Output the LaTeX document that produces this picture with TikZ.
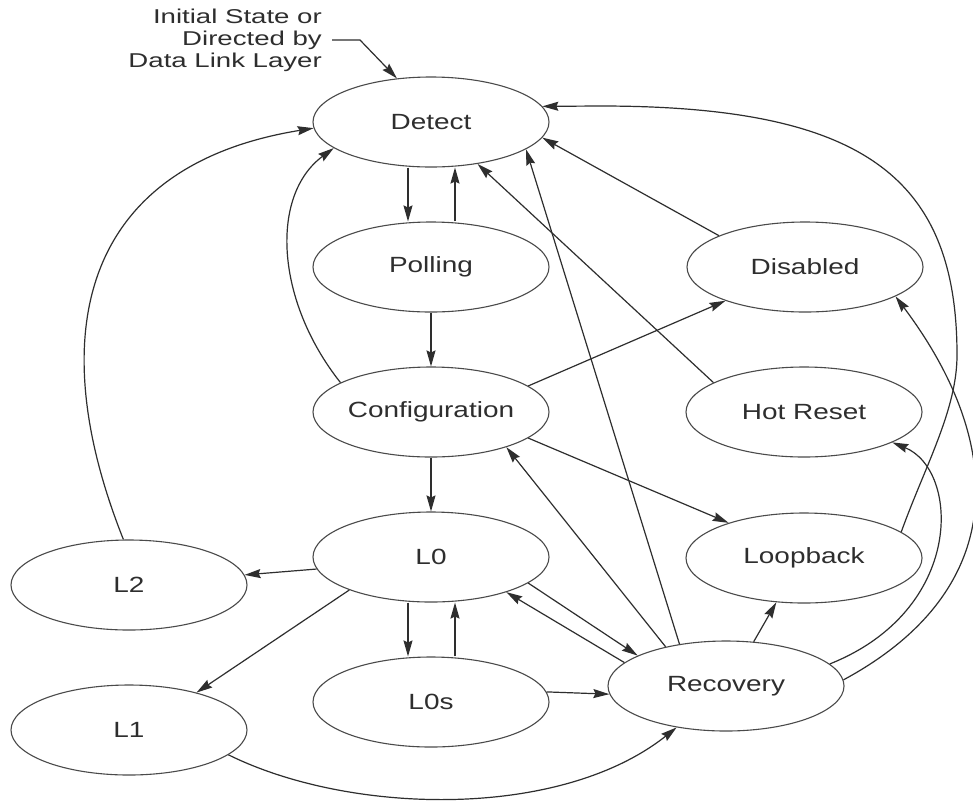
\documentclass[tikz,border=0pt]{standalone}
\usepackage{fontspec}
\setmainfont{Liberation Sans}
\newfontfamily\statefont{Liberation Sans}[FakeStretch=1.27]
\newfontfamily\notefont{Liberation Sans}[FakeStretch=1.38]
\usetikzlibrary{shapes.geometric,arrows.meta}
\definecolor{ink}{HTML}{2E2E2E}
\definecolor{rim}{HTML}{4A4A4A}
\begin{document}
\begin{tikzpicture}[x=1pt,y=-1pt,
  state/.style={draw=rim, line width=1.1pt, ellipse, minimum width=236pt,
    minimum height=90pt, inner sep=0pt, text=ink,
    font=\statefont\fontsize{22}{26}\selectfont},
  link/.style={draw=ink, line width=1.2pt,
    -{Stealth[length=16pt,width=9pt,inset=2pt]}}
]
\useasboundingbox (0,0) rectangle (973,804);
\fill[white] (0,0) rectangle (973,804);

% LTSSM states
\node[state] (det)  at (431,122) {Detect};
\node[state] (pol)  at (431,267) {Polling};
\node[state] (cfg)  at (431,412) {Configuration};
\node[state] (l0)   at (431,557) {L0};
\node[state] (l0s)  at (431,702) {L0s};
\node[state] (dis)  at (805,267) {Disabled};
\node[state] (hot)  at (804,412) {Hot Reset};
\node[state] (loop) at (804,558) {Loopback};
\node[state] (rec)  at (726,686) {Recovery};
\node[state] (l2)   at (129,585) {L2};
\node[state] (l1)   at (129,730) {L1};

% entry note
\node[anchor=east, align=right, inner sep=0pt, text=ink,
      font=\notefont\fontsize{20}{22}\selectfont] (init) at (322,40)
      {Initial State or\\Directed by\\Data Link Layer};
\draw[link] ([xshift=10pt]init.east) -- ([xshift=38pt]init.east) -- (det.128);

% main column
\draw[link] ([xshift=-23pt]det.south) -- ([xshift=-23pt]pol.north);
\draw[link] ([xshift=24pt]pol.north) -- ([xshift=24pt]det.south);
\draw[link] (pol) -- (cfg);
\draw[link] (cfg) -- (l0);
\draw[link] ([xshift=-23pt]l0.south) -- ([xshift=-23pt]l0s.north);
\draw[link] ([xshift=24pt]l0s.north) -- ([xshift=24pt]l0.south);
\draw[link] (l0s.5) -- (rec.184);

% low power states
\draw[link] (l0.186) -- (l2.5);
\draw[link] (l0.202) -- (l1.29);
\draw[link] (l2.97) .. controls (40,330) and (85,165) .. (det.183);
\draw[link] (l1.346) .. controls (350,815) and (560,820) .. (rec.220);

% configuration exits
\draw[link] (cfg.162) .. controls (275,300) and (270,195) .. (det.195);
\draw[link] (cfg.15) -- (dis.203);
\draw[link] (cfg.345) -- (loop.155);

% returns to detect
\draw[link] (dis.160) -- (det.352);
\draw[link] (hot.162) -- (det.318);
\draw[link] (loop.15) .. controls (925,466) and (957,410) .. (957,355)
  .. controls (957,175) and (860,106) .. (600,106) -- (det.8);

% recovery exits
\draw[link] (rec.138) -- (det.344);
\draw[link] (rec.147) -- (cfg.335);
\draw[link] (rec.167) -- (l0.335);
\draw[link] (l0.345) -- (rec.161);
\draw[link] (rec.58) -- (loop.238);
\draw[link] (rec.12) .. controls (965,610) and (960,470) .. (hot.341);
\draw[link] (rec.3) .. controls (1010,590) and (1007,445) .. (dis.342);
\end{tikzpicture}
\end{document}
